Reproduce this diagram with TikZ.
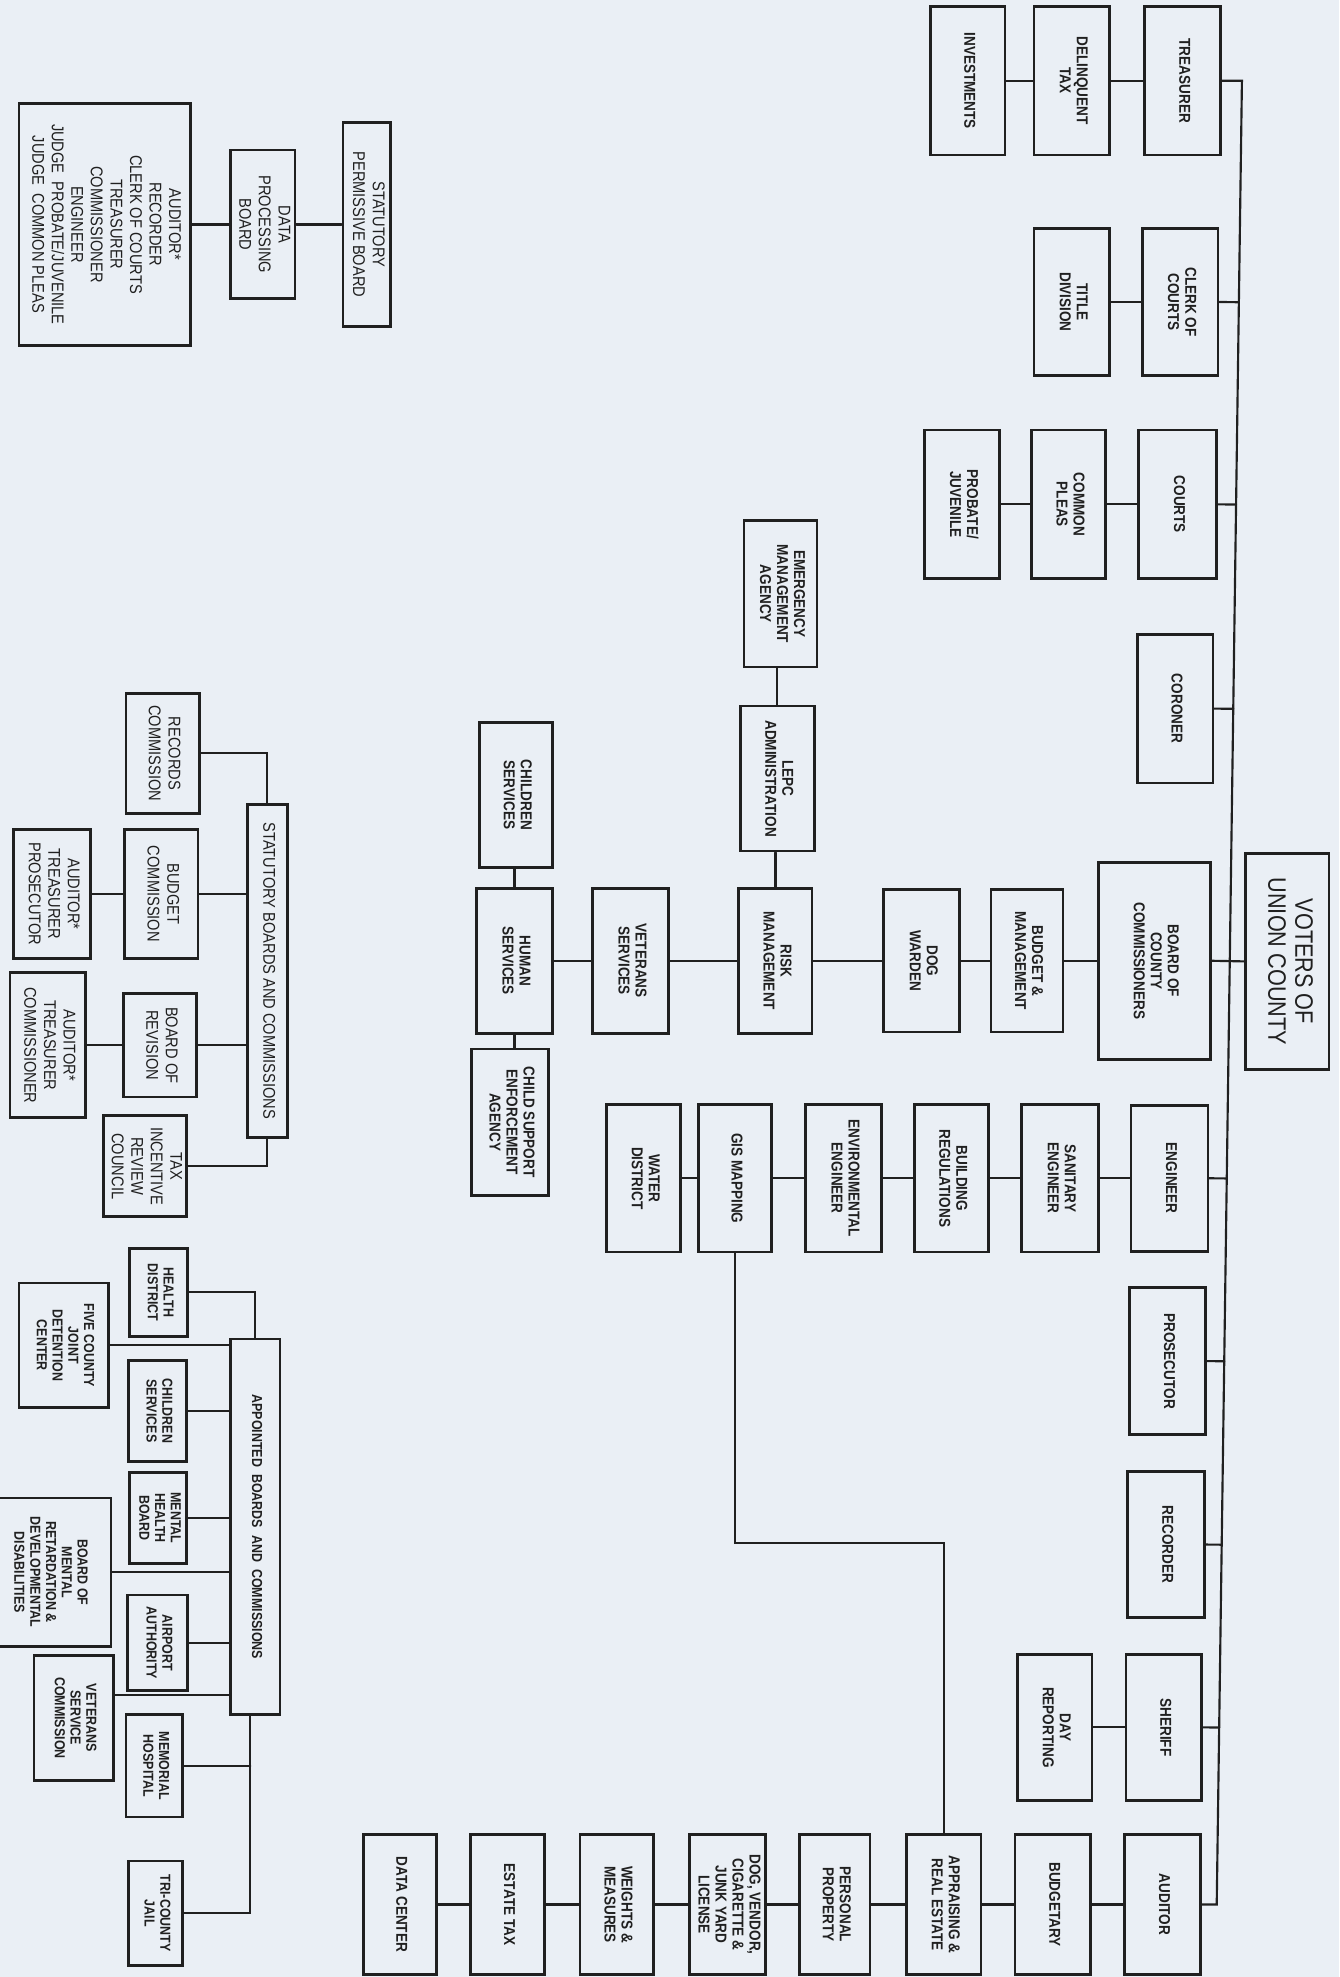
\documentclass[tikz,border=0pt]{standalone}
\usepackage{fontspec}
\setmainfont{Liberation Sans}
\usepackage{graphicx}
\usetikzlibrary{calc}
\definecolor{ocpaper}{HTML}{EAEFF5}
\definecolor{ocink}{HTML}{202020}
\newcommand{\vtext}[1]{\rotatebox{-90}{\scalebox{0.86}[1]{%
  \begin{tabular}{@{}c@{}}#1\end{tabular}}}}
\tikzset{
  ocbox/.style n args={2}{
    draw=ocink, line width=2.2pt, inner sep=0pt,
    minimum width=#1pt, minimum height=#2pt, text=ocink,
    font=\fontsize{12.5}{13.5}\selectfont\bfseries},
  ocbig/.style={font=\fontsize{13.5}{15.5}\selectfont},
  ocsmall/.style={font=\fontsize{11.5}{12.5}\selectfont\bfseries},
  ocwire/.style={draw=ocink, line width=1.7pt},
  every picture/.style={line cap=round},
}

\begin{document}
\begin{tikzpicture}[x=1pt, y=-1pt]

% Page.
\useasboundingbox (0,0) rectangle (1062,1568);
\fill[ocpaper] (0,0) rectangle (1062,1568);

% Elected offices along the trunk.
\node[ocbox={60}{118}] (tre) at (938,64) {\vtext{TREASURER}};
\node[ocbox={60}{117}] (clk) at (936,239.5) {\vtext{CLERK OF\\COURTS}};
\node[ocbox={62}{118}] (crt) at (934,400) {\vtext{COURTS}};
\node[ocbox={60}{118}] (cor) at (932,562) {\vtext{CORONER}};
\node[ocbox={89}{156}] (bcc) at (915.5,762)
  {\vtext{BOARD OF\\COUNTY\\COMMISSIONERS}};
\node[ocbox={61}{116}] (eng) at (927.5,934.5) {\vtext{ENGINEER}};
\node[ocbox={60}{117}] (pro) at (926,1079.5) {\vtext{PROSECUTOR}};
\node[ocbox={61}{116}] (rec) at (924.5,1225) {\vtext{RECORDER}};
\node[ocbox={60}{116}] (shf) at (923,1370) {\vtext{SHERIFF}};
\node[ocbox={60}{111}] (aud) at (922,1510.5) {\vtext{AUDITOR}};
\node[ocbox={66}{171}, font=\fontsize{20}{21.5}\selectfont] (vot)
  at (1021,762.5) {\vtext{VOTERS OF\\UNION COUNTY}};

% Departments under each office.
\node[ocbox={60}{118}] (dtx) at (850,64) {\vtext{DELINQUENT\\TAX}};
\node[ocbox={59}{118}] (inv) at (767.5,64) {\vtext{INVESTMENTS}};
\node[ocbox={60}{117}] (ttl) at (850,239.5) {\vtext{TITLE\\DIVISION}};
\node[ocbox={59}{118}] (cpl) at (847.5,400) {\vtext{COMMON\\PLEAS}};
\node[ocbox={60}{118}] (prj) at (763,400) {\vtext{PROBATE/\\JUVENILE}};

\node[ocbox={57}{113}] (bdm) at (814.5,762) {\vtext{BUDGET \&\\MANAGEMENT}};
\node[ocbox={60}{113}] (dog) at (731,762) {\vtext{DOG\\WARDEN}};
\node[ocbox={58}{115}] (rsk) at (615,762) {\vtext{RISK\\MANAGEMENT}};
\node[ocbox={59}{115}] (lep) at (616.5,617.5) {\vtext{LEPC\\ADMINISTRATION}};
\node[ocbox={58}{116}] (ema) at (619,471)
  {\vtext{EMERGENCY\\MANAGEMENT\\AGENCY}};
\node[ocbox={60}{115}] (vet) at (500,762) {\vtext{VETERANS\\SERVICES}};
\node[ocbox={60}{115}] (hum) at (408,762) {\vtext{HUMAN\\SERVICES}};
\node[ocbox={58}{115}] (chs) at (409,630.5) {\vtext{CHILDREN\\SERVICES}};
\node[ocbox={61}{116}] (cse) at (404.5,890)
  {\vtext{CHILD SUPPORT\\ENFORCEMENT\\AGENCY}};

\node[ocbox={61}{117}] (san) at (840.5,934.5) {\vtext{SANITARY\\ENGINEER}};
\node[ocbox={59}{117}] (bld) at (754.5,934.5) {\vtext{BUILDING\\REGULATIONS}};
\node[ocbox={60}{117}] (env) at (669,934.5) {\vtext{ENVIRONMENTAL\\ENGINEER}};
\node[ocbox={58}{117}] (gis) at (583,934.5) {\vtext{GIS MAPPING}};
\node[ocbox={59}{117}] (wat) at (510.5,934.5) {\vtext{WATER\\DISTRICT}};

\node[ocbox={59}{116}] (day) at (836.5,1370) {\vtext{DAY\\REPORTING}};
\node[ocbox={60}{111}] (bgt) at (835,1510.5) {\vtext{BUDGETARY}};
\node[ocbox={59}{111}] (apr) at (748.5,1510.5)
  {\vtext{APPRAISING \&\\REAL ESTATE}};
\node[ocbox={56}{111}] (per) at (662,1510.5) {\vtext{PERSONAL\\PROPERTY}};
\node[ocbox={60}{111}] (dvl) at (577,1510.5)
  {\vtext{DOG, VENDOR,\\CIGARETTE \&\\JUNK YARD\\LICENSE}};
\node[ocbox={58}{111}] (wgt) at (489,1510.5) {\vtext{WEIGHTS \&\\MEASURES}};
\node[ocbox={59}{111}] (est) at (402.5,1510.5) {\vtext{ESTATE TAX}};
\node[ocbox={58}{111}] (dat) at (317,1510.5) {\vtext{DATA CENTER}};

% Trunk from the voters to every office.
\coordinate (ttop) at (985,64);
\coordinate (tbot) at (965,1510.5);
\draw[ocwire] (tre.east) -- (ttop) -- (tbot) -- (aud.east);
\foreach \n in {clk, crt, cor, eng, pro, rec, shf}
  \draw[ocwire] (\n.east) -- ($(ttop)!(\n.east)!(tbot)$);
\draw[ocwire] (bcc.east) -- (vot.west);

% Chains of departments.
\foreach \a/\b in {inv/dtx, dtx/tre, ttl/clk, prj/cpl, cpl/crt,
                   hum/vet, vet/rsk, rsk/dog, dog/bdm, bdm/bcc,
                   wat/gis, gis/env, env/bld, bld/san, san/eng,
                   day/shf, dat/est, est/wgt, wgt/dvl, dvl/per,
                   per/apr, apr/bgt, bgt/aud}
  \draw[ocwire] (\a.east) -- (\a.east -| \b.west);
\draw[ocwire] (rsk.north) -- (rsk.north |- lep.south);
\draw[ocwire] (lep.north) -- (lep.north |- ema.south);
\draw[ocwire] (hum.north) -- (hum.north |- chs.south);
\draw[ocwire] (hum.south) -- (hum.south |- cse.north);
\draw[ocwire] (gis.south) |- ($(gis.south)!0.5!(apr.north)$) -| (apr.north);

% Statutory permissive board.
\node[ocbox={38}{162}, ocbig] (spb) at (291,178)
  {\vtext{STATUTORY\\PERMISSIVE BOARD}};
\node[ocbox={51}{118}, ocbig] (dpb) at (208.5,178)
  {\vtext{DATA\\PROCESSING\\BOARD}};
\node[ocbox={136}{192}, ocbig] (alist) at (83,178)
  {\vtext{AUDITOR*\\RECORDER\\CLERK OF COURTS\\TREASURER\\COMMISSIONER\\
    ENGINEER\\JUDGE\ \ PROBATE/JUVENILE\\JUDGE\ \ COMMON PLEAS}};
\draw[ocwire] (alist.east) -- (dpb.west);
\draw[ocwire] (dpb.east) -- (spb.west);

% Statutory boards and commissions.
\node[ocbox={32}{264}, ocbig] (sbc) at (212,770)
  {\vtext{STATUTORY BOARDS AND COMMISSIONS}};
\node[ocbox={58}{95}, ocbig] (rcm) at (129,597.5)
  {\vtext{RECORDS\\COMMISSION}};
\node[ocbox={58}{102}, ocbig] (bcm) at (128,709)
  {\vtext{BUDGET\\COMMISSION}};
\node[ocbox={58}{82}, ocbig] (brv) at (127,829) {\vtext{BOARD OF\\REVISION}};
\node[ocbox={66}{80}, ocbig] (tir) at (115,925)
  {\vtext{TAX\\INCENTIVE\\REVIEW\\COUNCIL}};
\node[ocbox={61}{102}, ocbig] (atp) at (41.5,709)
  {\vtext{AUDITOR*\\TREASURER\\PROSECUTOR}};
\node[ocbox={60}{115}, ocbig] (atc) at (38,829)
  {\vtext{AUDITOR*\\TREASURER\\COMMISSIONER}};
\draw[ocwire] (rcm.east) -| (sbc.north);
\draw[ocwire] (tir.east) -| (sbc.south);
\draw[ocwire] (bcm.east) -- (bcm.east -| sbc.west);
\draw[ocwire] (brv.east) -- (brv.east -| sbc.west);
\draw[ocwire] (atp.east) -- (atp.east -| bcm.west);
\draw[ocwire] (atc.east) -- (atc.east -| brv.west);

% Appointed boards and commissions.
\node[ocbox={39}{298}, ocsmall] (abc) at (202.5,1211)
  {\vtext{APPOINTED\ \ BOARDS\ \ AND\ \ COMMISSIONS}};
\node[ocbox={46}{70}, ocsmall] (hlt) at (126,1025) {\vtext{HEALTH\\DISTRICT}};
\node[ocbox={71}{99}, ocsmall] (fcj) at (50.5,1067)
  {\vtext{FIVE COUNTY\\JOINT\\DETENTION\\CENTER}};
\node[ocbox={46}{80}, ocsmall] (chd) at (125,1119)
  {\vtext{CHILDREN\\SERVICES}};
\node[ocbox={45}{72}, ocsmall] (mhb) at (125.5,1204)
  {\vtext{MENTAL\\HEALTH\\BOARD}};
\node[ocbox={98}{118}, ocsmall] (bmr) at (39,1247)
  {\vtext{BOARD OF\\MENTAL\\RETARDATION \&\\DEVELOPMENTAL\\DISABILITIES}};
\node[ocbox={48}{76}, ocsmall] (apt) at (125,1303)
  {\vtext{AIRPORT\\AUTHORITY}};
\node[ocbox={63}{99}, ocsmall] (vsc) at (58.5,1362.5)
  {\vtext{VETERANS\\SERVICE\\COMMISSION}};
\node[ocbox={45}{81}, ocsmall] (mhp) at (122.5,1400.5)
  {\vtext{MEMORIAL\\HOSPITAL}};
\node[ocbox={43}{83}, ocsmall] (tcj) at (123.5,1517.5)
  {\vtext{TRI-COUNTY\\JAIL}};
\draw[ocwire] (hlt.east) -| (abc.north);
\foreach \n in {fcj, chd, mhb, bmr, apt}
  \draw[ocwire] (\n.east) -- (\n.east -| abc.west);
\draw[ocwire] ($(vsc.north east)!0.32!(vsc.south east)$) coordinate (vsc1)
  -- (vsc1 -| abc.west);
\draw[ocwire] ($(abc.south)+(-4,0)$) coordinate (abc1) |- (tcj.east);
\draw[ocwire] (mhp.east) -- (mhp.east -| abc1);

\end{tikzpicture}
\end{document}
